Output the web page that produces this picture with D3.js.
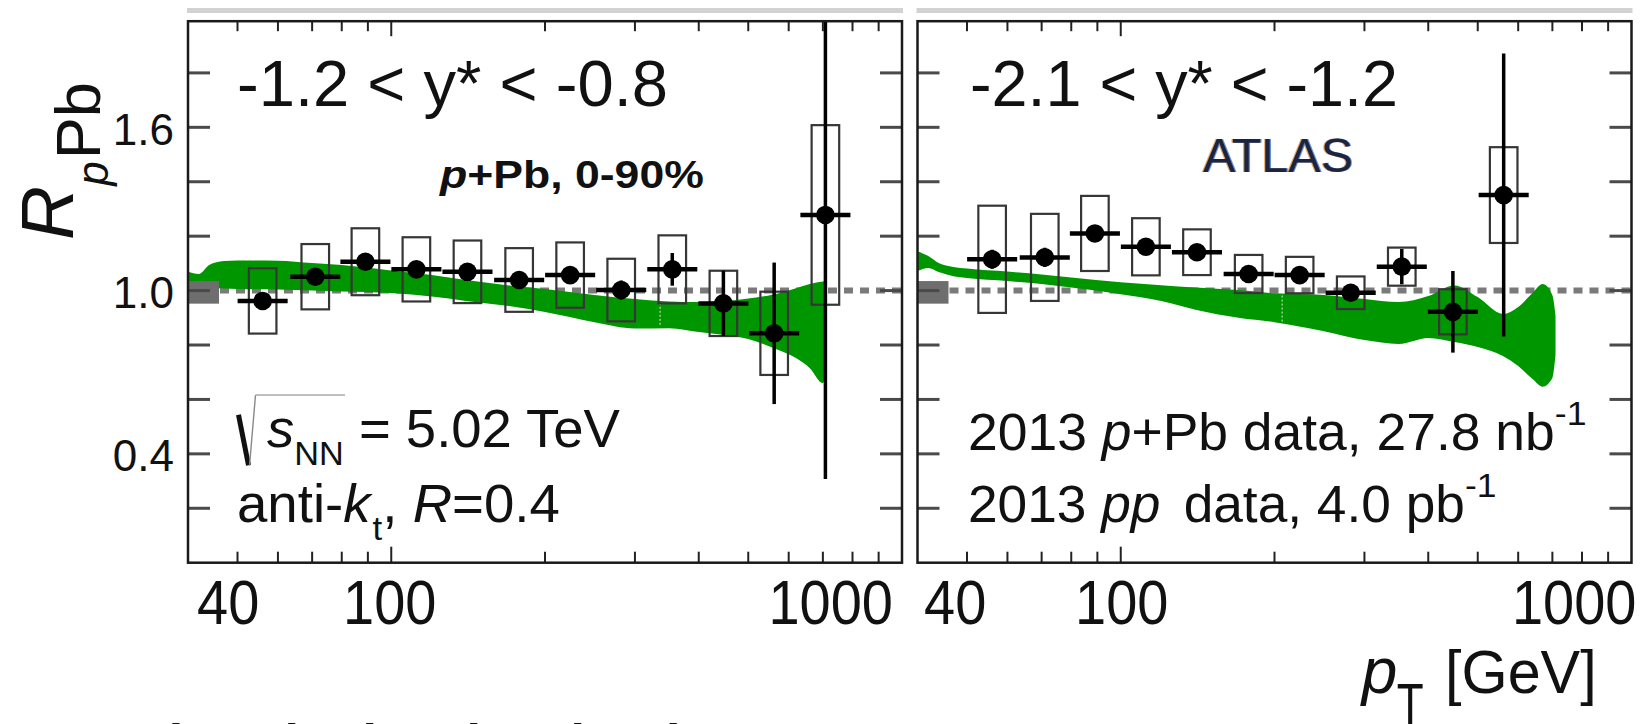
<!DOCTYPE html>
<html>
<head>
<meta charset="utf-8">
<script src="https://cdn.jsdelivr.net/npm/d3@7"></script>
<style>
  html, body { margin: 0; padding: 0; background: #fff; }
  svg { display: block; font-family: "Liberation Sans", Arial, Helvetica, sans-serif; }
</style>
</head>
<body>
<svg id="chart" width="1650" height="724"></svg>
<script>
// ---- Data: jet R_pPb vs pT in two rapidity intervals ----
// pT bin centres [GeV], measured ratio, statistical and systematic uncertainties
const ptLeft   = [56, 71, 89, 112, 141, 178, 224, 282, 355, 447, 562, 708];
const rLeft    = [0.962, 1.051, 1.106, 1.078, 1.069, 1.039, 1.057, 1.002, 1.078, 0.953, 0.843, 1.278];
const statLeft = [0.025, 0.025, 0.03, 0.03, 0.03, 0.03, 0.03, 0.035, 0.06, 0.12, 0.26, 0.97];
const sysLeft  = [0.12, 0.12, 0.123, 0.118, 0.115, 0.117, 0.12, 0.115, 0.125, 0.12, 0.153, 0.33];

const ptRight   = [56, 71, 89, 112, 141, 178, 224, 282, 355, 447, 562];
const rRight    = [1.115, 1.122, 1.210, 1.161, 1.141, 1.061, 1.057, 0.992, 1.088, 0.922, 1.351];
const statRight = [0.035, 0.035, 0.03, 0.03, 0.03, 0.03, 0.03, 0.03, 0.065, 0.15, 0.52];
const sysRight  = [0.197, 0.16, 0.138, 0.105, 0.084, 0.07, 0.067, 0.06, 0.07, 0.083, 0.176];

// Model band (lower / upper edge) for each rapidity interval
const bandPtL = [40, 42, 44, 47, 50, 60, 70, 80, 100, 120, 140, 170, 200, 250, 300, 350, 400, 450, 500, 560, 620, 660, 700, 710];
const bandHiL = [1.069, 1.061, 1.094, 1.109, 1.111, 1.110, 1.101, 1.094, 1.074, 1.057, 1.039, 1.019, 1.006, 0.984, 0.969, 0.960, 0.958, 0.962, 0.971, 0.986, 1.009, 1.024, 1.033, 1.035];
const bandLoL = [1.009, 1.009, 1.009, 1.008, 1.006, 1.004, 1.000, 0.997, 0.991, 0.978, 0.962, 0.943, 0.921, 0.884, 0.861, 0.862, 0.848, 0.837, 0.822, 0.789, 0.752, 0.715, 0.660, 0.701];
const bandSeamL = 336;

const bandPtR = [40, 42, 44, 47, 50, 60, 70, 80, 100, 120, 140, 170, 200, 250, 300, 350, 400, 450, 500, 560, 600, 640, 670, 700, 710];
const bandHiR = [1.145, 1.127, 1.101, 1.087, 1.081, 1.070, 1.059, 1.048, 1.031, 1.020, 1.011, 1.002, 0.990, 0.984, 0.969, 0.958, 0.980, 1.019, 0.976, 0.914, 0.940, 0.991, 1.024, 0.983, 0.907];
const bandLoR = [1.072, 1.083, 1.068, 1.053, 1.046, 1.035, 1.024, 1.011, 0.987, 0.962, 0.930, 0.900, 0.884, 0.851, 0.818, 0.804, 0.826, 0.811, 0.793, 0.760, 0.723, 0.675, 0.647, 0.679, 0.764];
const bandSeamR = 207;

// Normalisation uncertainty box around unity
const normLo = 0.952, normHi = 1.035, normPt = [40, 46];

// Axes
const xDomain = [40, 1000];
const yDomain = [0, 1.99];
const xMinorTicks = [50, 60, 70, 80, 90, 200, 300, 400, 500, 600, 700, 800, 900];
const xMajorTicks = [100];
const xTickLabels = [40, 100, 1000];
const yTicks = [0.2, 0.4, 0.6, 0.8, 1.0, 1.2, 1.4, 1.6, 1.8];
const yTickLabels = [0.4, 1.0, 1.6];

// ---- Layout ----
const W = 1650, H = 724;
const yTop = 21.2, yBot = 562.7;
const GREEN = "#009600";

const svg = d3.select("#chart");
const defs = svg.append("defs");
defs.append("clipPath").attr("id", "pageClip")
  .append("rect").attr("x", 0).attr("y", 0).attr("width", 1638).attr("height", H);
const root = svg.append("g").attr("clip-path", "url(#pageClip)");

const y = d3.scaleLinear().domain(yDomain).range([yBot, yTop]);

// text helper: parts are tspans; optional horizontal fit and vertical stretch
function addText(parent, x, yb, parts, o = {}) {
  const t = parent.append("text")
    .attr("font-size", o.size)
    .attr("font-weight", o.bold ? "bold" : null)
    .attr("font-style", o.italic ? "italic" : null)
    .attr("fill", o.fill || "#111")
    .attr("text-anchor", o.anchor || "start");
  if (o.opacity) t.attr("opacity", o.opacity);
  parts.forEach(p => {
    const s = t.append("tspan").text(p.t);
    if (p.it) s.attr("font-style", "italic");
    if (p.size) s.attr("font-size", p.size);
    if (p.dy) s.attr("dy", p.dy);
    if (p.dx) s.attr("dx", p.dx);
  });
  let sx = 1;
  if (o.width) sx = o.width / t.node().getBBox().width;
  t.attr("transform", `translate(${x},${yb}) scale(${sx},${o.sy || 1})`);
  return t;
}

function interp(xs, vs, v) {
  const lx = xs.map(Math.log);
  return d3.scaleLinear().domain(lx).range(vs)(Math.log(v));
}

const panels = [
  { id: "L", x0: 188, x1: 902, pt: ptLeft, r: rLeft, stat: statLeft, sys: sysLeft,
    bPt: bandPtL, bLo: bandLoL, bHi: bandHiL, seam: bandSeamL,
    title: "-1.2 < y* < -0.8", titleX: 237, titleW: 431,
    labelDx: { 40: 9, 100: -1.5, 1000: -9 }, yLabels: true },
  { id: "R", x0: 917.5, x1: 1631.5, pt: ptRight, r: rRight, stat: statRight, sys: sysRight,
    bPt: bandPtR, bLo: bandLoR, bHi: bandHiR, seam: bandSeamR,
    title: "-2.1 < y* < -1.2", titleX: 970, titleW: 428,
    labelDx: { 40: 6.5, 100: 1, 1000: 5 }, yLabels: false }
];

panels.forEach(p => {
  const x = d3.scaleLog().domain(xDomain).range([p.x0, p.x1]);
  const g = root.append("g");

  // grey strip above the frame
  g.append("line").attr("x1", p.x0 - 1).attr("x2", p.x1 + 1)
    .attr("y1", 10.5).attr("y2", 10.5)
    .attr("stroke", "#d2d2d2").attr("stroke-width", 5);

  defs.append("clipPath").attr("id", "clip" + p.id)
    .append("rect").attr("x", p.x0).attr("y", yTop)
    .attr("width", p.x1 - p.x0).attr("height", yBot - yTop);
  const plot = g.append("g").attr("clip-path", `url(#clip${p.id})`);

  // unity reference line
  plot.append("line").attr("x1", p.x0).attr("x2", p.x1)
    .attr("y1", y(1)).attr("y2", y(1))
    .attr("stroke", "#7a7a7a").attr("stroke-width", 6).attr("stroke-dasharray", "9 7");

  // model band
  const band = p.bPt.map((pt, i) => ({ pt, lo: p.bLo[i], hi: p.bHi[i] }));
  const area = d3.area().x(d => x(d.pt)).y0(d => y(d.lo)).y1(d => y(d.hi))
    .curve(d3.curveMonotoneX);
  plot.append("path").datum(band).attr("d", area).attr("fill", GREEN);
  plot.append("line")
    .attr("x1", x(p.seam)).attr("x2", x(p.seam))
    .attr("y1", y(interp(p.bPt, p.bHi, p.seam)) + 2)
    .attr("y2", y(interp(p.bPt, p.bLo, p.seam)) - 2)
    .attr("stroke", "#ffffff").attr("stroke-width", 1).attr("stroke-dasharray", "2 2")
    .attr("opacity", 0.85);

  // normalisation uncertainty
  plot.append("rect")
    .attr("x", x(normPt[0])).attr("width", x(normPt[1]) - x(normPt[0]))
    .attr("y", y(normHi)).attr("height", y(normLo) - y(normHi))
    .attr("fill", "#6e6e6e");

  const pts = p.pt.map((pt, i) => ({ pt, r: p.r[i], stat: p.stat[i], sys: p.sys[i] }));

  // systematic boxes
  plot.selectAll("rect.sys").data(pts).join("rect").attr("class", "sys")
    .attr("x", d => x(d.pt * Math.pow(10, -0.027)))
    .attr("width", d => x(d.pt * Math.pow(10, 0.027)) - x(d.pt * Math.pow(10, -0.027)))
    .attr("y", d => y(d.r + d.sys))
    .attr("height", d => y(d.r - d.sys) - y(d.r + d.sys))
    .attr("fill", "none").attr("stroke", "#363636").attr("stroke-width", 2.2);

  // statistical error bars
  plot.selectAll("line.stat").data(pts).join("line").attr("class", "stat")
    .attr("x1", d => x(d.pt)).attr("x2", d => x(d.pt))
    .attr("y1", d => y(d.r + d.stat)).attr("y2", d => y(d.r - d.stat))
    .attr("stroke", "#000").attr("stroke-width", 3.5);
  // bin widths
  plot.selectAll("line.bin").data(pts).join("line").attr("class", "bin")
    .attr("x1", d => x(d.pt * Math.pow(10, -0.049)))
    .attr("x2", d => x(d.pt * Math.pow(10, 0.049)))
    .attr("y1", d => y(d.r)).attr("y2", d => y(d.r))
    .attr("stroke", "#000").attr("stroke-width", 4.5);
  // markers
  plot.selectAll("circle").data(pts).join("circle")
    .attr("cx", d => x(d.pt)).attr("cy", d => y(d.r)).attr("r", 9.3)
    .attr("fill", "#000");

  // y ticks on both sides
  const ax = g.append("g").attr("stroke", "#4a4a4a").attr("stroke-width", 3);
  yTicks.forEach(v => {
    ax.append("line").attr("x1", p.x0).attr("x2", p.x0 + 22).attr("y1", y(v)).attr("y2", y(v));
    ax.append("line").attr("x1", p.x1 - 22).attr("x2", p.x1).attr("y1", y(v)).attr("y2", y(v));
  });
  // x ticks bottom and top
  const xt = g.append("g").attr("stroke", "#222").attr("stroke-width", 2);
  xMinorTicks.forEach(v => {
    xt.append("line").attr("x1", x(v)).attr("x2", x(v)).attr("y1", yBot).attr("y2", yBot - 11);
    xt.append("line").attr("x1", x(v)).attr("x2", x(v)).attr("y1", yTop).attr("y2", yTop + 10);
  });
  xMajorTicks.forEach(v => {
    xt.append("line").attr("x1", x(v)).attr("x2", x(v)).attr("y1", yBot).attr("y2", yBot - 16);
    xt.append("line").attr("x1", x(v)).attr("x2", x(v)).attr("y1", yTop).attr("y2", yTop + 15);
  });

  // frame
  g.append("rect").attr("x", p.x0).attr("y", yTop)
    .attr("width", p.x1 - p.x0).attr("height", yBot - yTop)
    .attr("fill", "none").attr("stroke", "#1a1a1a").attr("stroke-width", 2.5);

  // x tick labels
  xTickLabels.forEach((v, i) => {
    const anchor = i === 0 ? "start" : (i === xTickLabels.length - 1 ? "end" : "middle");
    addText(g, x(v) + p.labelDx[v], 624, [{ t: d3.format("d")(v) }],
      { size: 56, sy: 1.12, anchor });
  });

  // y tick labels
  if (p.yLabels) {
    yTickLabels.forEach(v => {
      addText(g, 174, y(v) + 17.5, [{ t: d3.format(".1f")(v) }], { size: 44, anchor: "end" });
    });
  }

  // rapidity interval
  addText(g, p.titleX, 106, [{ t: p.title }], { size: 64, width: p.titleW });
});

// ---- Annotations ----
const ann = root.append("g");

addText(ann, 440, 188, [{ t: "p", it: true }, { t: "+Pb, 0-90%" }],
  { size: 39.5, bold: true, width: 265 });

// ATLAS label with slight colour fringes
[["#e0903a", -1.2, 0.8], ["#3d78d8", 1.2, 0.8], ["#1d2440", 0, 1]].forEach(([c, dx, op]) => {
  addText(ann, 1203 + dx, 172, [{ t: "ATLAS" }], { size: 49, width: 150, fill: c, opacity: op });
});

// sqrt(s_NN) = 5.02 TeV
const rad = ann.append("g").attr("transform", "translate(237,446.7)");
rad.append("line").attr("x1", 1.5).attr("y1", -32).attr("x2", 11.5).attr("y2", 18.5)
  .attr("stroke", "#111").attr("stroke-width", 5);
rad.append("line").attr("x1", 12.5).attr("y1", 19).attr("x2", 18.5).attr("y2", -51.7)
  .attr("stroke", "#888").attr("stroke-width", 1.4);
rad.append("line").attr("x1", 18.5).attr("y1", -51.7).attr("x2", 108).attr("y2", -51.7)
  .attr("stroke", "#aaa").attr("stroke-width", 1.4);
addText(ann, 267, 446.7,
  [{ t: "s", it: true }, { t: "NN", size: 34, dy: 18.3 }, { t: " = 5.02 TeV", dy: -18.3 }],
  { size: 54, width: 353 });

addText(ann, 237, 521.7,
  [{ t: "anti-" }, { t: "k", it: true }, { t: "t", size: 34, dy: 18.3, dx: 2 },
   { t: ", ", dy: -18.3 }, { t: "R", it: true }, { t: "=0.4" }],
  { size: 53, width: 323 });

addText(ann, 968, 450,
  [{ t: "2013 " }, { t: "p", it: true }, { t: "+Pb data, 27.8 nb" },
   { t: "-1", size: 34, dy: -25 }],
  { size: 51, width: 618.7 });

addText(ann, 968, 521.7,
  [{ t: "2013 " }, { t: "pp", it: true }, { t: " data, 4.0 pb", dx: 8 },
   { t: "-1", size: 34, dy: -25 }],
  { size: 51, width: 528.7 });

// x-axis title
addText(ann, 1361.7, 693, [{ t: "p", it: true }], { size: 64 });
addText(ann, 1396.7, 724, [{ t: "T" }], { size: 44, sy: 1.3 });
addText(ann, 1445, 693, [{ t: "[GeV]" }], { size: 62, width: 151.7 });

// y-axis title
const yt = ann.append("text").attr("transform", "translate(73,240) rotate(-90)")
  .attr("fill", "#111");
yt.append("tspan").text("R").attr("font-style", "italic").attr("font-size", 75);
yt.append("tspan").text("p").attr("font-style", "italic").attr("font-size", 44).attr("dy", 35);
yt.append("tspan").text("Pb").attr("font-size", 63).attr("dy", -8).attr("dx", 2);

// caption line below the figure
addText(ann, 112, 761, [{ t: "Take a look at jets in Pb" }], { size: 52, bold: true });
</script>
</body>
</html>
